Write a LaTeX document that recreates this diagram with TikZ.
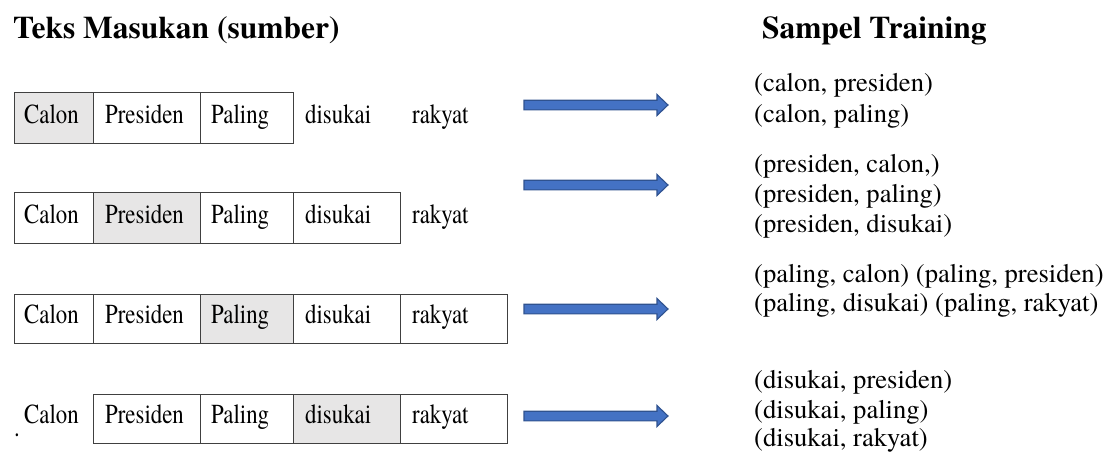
\documentclass[tikz,border=0pt]{standalone}
\usepackage{fontspec}
\setmainfont{texgyretermes}[Extension=.otf, UprightFont=*-regular, BoldFont=*-bold, ItalicFont=*-italic, BoldItalicFont=*-bolditalic]
\newfontfamily\cellfont{texgyretermes}[Extension=.otf, UprightFont=*-regular, FakeStretch=0.83]
\definecolor{cellline}{HTML}{404040}
\definecolor{cellgray}{HTML}{E7E6E6}
\definecolor{arrowblue}{HTML}{4472C4}
\definecolor{arrowedge}{HTML}{2F528F}
\tikzset{
  cell/.style={draw=cellline, line width=0.9pt, inner sep=0pt, anchor=north west},
  hot/.style={cell, fill=cellgray},
  word/.style={inner sep=0pt, anchor=base west, font=\cellfont\fontsize{27.5}{30}\selectfont},
  pair/.style={inner sep=0pt, anchor=base west, font=\fontsize{26.6}{30}\selectfont},
  heading/.style={inner sep=0pt, anchor=base west, font=\fontsize{31.5}{36}\selectfont\bfseries},
  blockarrow/.pic={
    \filldraw[fill=arrowblue, draw=arrowedge, line width=1.1pt, line join=miter]
      (0,-4.8) -- (133,-4.8) -- (133,-10.5) -- (144,0) -- (133,10.5) -- (133,4.8) -- (0,4.8) -- cycle;
  }
}
\begin{document}
\begin{tikzpicture}[x=1pt, y=-1pt]
\useasboundingbox (0,0) rectangle (1105,452);

% headings
\node[heading] (hsrc) at (13,39) {Teks Masukan (sumber)};
\node[heading] (htrain) at (762,39) {Sampel Training};

% row 1: centre word "Calon"
\node[hot,  minimum width=79pt,  minimum height=51pt] (r1c1) at (14,92) {};
\node[cell, minimum width=107pt, minimum height=51pt] (r1c2) at (93,92) {};
\node[cell, minimum width=93pt,  minimum height=51pt] (r1c3) at (200,92) {};
\node[word] (r1w1) at (24,123) {Calon};
\node[word] (r1w2) at (105,123) {Presiden};
\node[word] (r1w3) at (211,123) {Paling};
\node[word] (r1w4) at (305,123) {disukai};
\node[word] (r1w5) at (412,123) {rakyat};

% row 2: centre word "Presiden"
\node[cell, minimum width=79pt,  minimum height=51pt] (r2c1) at (14,192) {};
\node[hot,  minimum width=107pt, minimum height=51pt] (r2c2) at (93,192) {};
\node[cell, minimum width=93pt,  minimum height=51pt] (r2c3) at (200,192) {};
\node[cell, minimum width=107pt, minimum height=51pt] (r2c4) at (293,192) {};
\node[word] (r2w1) at (24,223) {Calon};
\node[word] (r2w2) at (105,223) {Presiden};
\node[word] (r2w3) at (211,223) {Paling};
\node[word] (r2w4) at (305,223) {disukai};
\node[word] (r2w5) at (412,223) {rakyat};

% row 3: centre word "Paling"
\node[cell, minimum width=79pt,  minimum height=49pt] (r3c1) at (14,294) {};
\node[cell, minimum width=107pt, minimum height=49pt] (r3c2) at (93,294) {};
\node[hot,  minimum width=93pt,  minimum height=49pt] (r3c3) at (200,294) {};
\node[cell, minimum width=107pt, minimum height=49pt] (r3c4) at (293,294) {};
\node[cell, minimum width=107pt, minimum height=49pt] (r3c5) at (400,294) {};
\node[word] (r3w1) at (24,323) {Calon};
\node[word] (r3w2) at (105,323) {Presiden};
\node[word] (r3w3) at (211,323) {Paling};
\node[word] (r3w4) at (305,323) {disukai};
\node[word] (r3w5) at (412,323) {rakyat};

% row 4: centre word "disukai"
\node[cell, minimum width=107pt, minimum height=49pt] (r4c2) at (93,394) {};
\node[cell, minimum width=93pt,  minimum height=49pt] (r4c3) at (200,394) {};
\node[hot,  minimum width=107pt, minimum height=49pt] (r4c4) at (293,394) {};
\node[cell, minimum width=107pt, minimum height=49pt] (r4c5) at (400,394) {};
\node[word] (r4w1) at (24,423) {Calon};
\node[word] (r4w2) at (105,423) {Presiden};
\node[word] (r4w3) at (211,423) {Paling};
\node[word] (r4w4) at (305,423) {disukai};
\node[word] (r4w5) at (412,423) {rakyat};
\node[word] (dot) at (14,436) {.};

% block arrows
\pic at (524,105) {blockarrow};
\pic at (524,185) {blockarrow};
\pic at (524,309) {blockarrow};
\pic at (524,416) {blockarrow};

% training pairs
\node[pair] (p1a) at (754,91)  {(calon, presiden)};
\node[pair] (p1b) at (754,122) {(calon, paling)};
\node[pair] (p2a) at (754,172) {(presiden, calon,)};
\node[pair] (p2b) at (754,202) {(presiden, paling)};
\node[pair] (p2c) at (754,232) {(presiden, disukai)};
\node[pair] (p3a) at (754,282) {(paling, calon) (paling, presiden)};
\node[pair] (p3b) at (754,311) {(paling, disukai) (paling, rakyat)};
\node[pair] (p4a) at (754,388) {(disukai, presiden)};
\node[pair] (p4b) at (754,418) {(disukai, paling)};
\node[pair] (p4c) at (754,446) {(disukai, rakyat)};
\end{tikzpicture}
\end{document}
